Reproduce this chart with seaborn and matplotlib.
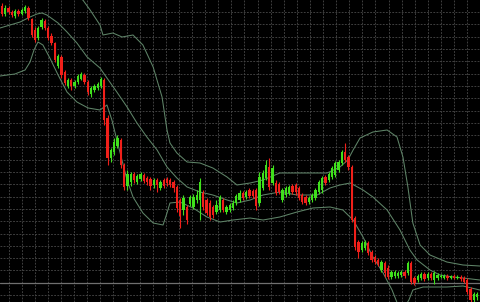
import numpy as np
import pandas as pd
import matplotlib
matplotlib.use("Agg")
import matplotlib.pyplot as plt
import seaborn as sns

# ---- candle data (price units, arbitrary scale) ----
opens = [294, 286, 292, 288, 284, 289, 286, 289, 292, 281, 270, 262, 273, 279, 272, 264,
         257, 234, 243, 228, 214, 220, 214, 218, 221, 225, 218, 206, 210, 212, 214, 220,
         182, 142, 148, 154, 160, 135, 114, 118, 126, 118, 121, 125, 122, 121, 115, 120,
         112, 120, 121, 120, 118, 113, 100, 90, 93, 96, 93, 100, 100, 107, 100, 97,
         93, 88, 90, 100, 88, 90, 92, 97, 100, 107, 103, 110, 109, 110, 97, 112,
         122, 133, 117, 117, 116, 100, 105, 107, 114, 115, 112, 105, 103, 98, 100, 102,
         108, 110, 123, 120, 123, 125, 130, 137, 148, 143, 133, 82, 58, 50, 52, 57,
         48, 43, 40, 30, 37, 32, 23, 24, 24, 25, 28, 27, 37, 22, 20, 22,
         26, 22, 26, 20, 22, 23, 22, 24, 22, 24, 22, 23, 22, 20, 11, 0, 3]
highs = [297, 295, 294, 290, 291, 291, 292, 295, 294, 282, 273, 274, 282, 281, 274, 267,
         258, 246, 245, 230, 222, 222, 220, 226, 228, 227, 220, 214, 216, 218, 223, 222,
         185, 152, 162, 165, 162, 137, 130, 128, 128, 126, 128, 127, 124, 123, 122, 122,
         120, 122, 123, 122, 120, 115, 102, 105, 95, 105, 106, 110, 122, 110, 102, 100,
         95, 100, 105, 102, 95, 97, 100, 106, 110, 109, 110, 112, 111, 112, 128, 130,
         140, 142, 135, 120, 118, 112, 114, 115, 116, 117, 114, 107, 105, 104, 107, 112,
         120, 124, 125, 128, 134, 139, 140, 150, 157, 145, 135, 84, 60, 59, 60, 59,
         50, 45, 42, 40, 39, 35, 30, 30, 29, 30, 30, 39, 39, 24, 26, 28,
         28, 28, 28, 29, 27, 26, 26, 26, 25, 26, 25, 25, 24, 22, 13, 8, 8]
lows = [284, 284, 286, 283, 282, 284, 285, 287, 280, 263, 258, 260, 271, 270, 260, 255,
        238, 232, 222, 215, 212, 210, 212, 216, 220, 216, 205, 203, 208, 210, 212, 175,
        135, 138, 145, 152, 132, 110, 110, 114, 117, 116, 119, 117, 115, 110, 112, 108,
        110, 112, 114, 113, 108, 88, 72, 85, 76, 94, 91, 97, 80, 90, 85, 80,
        82, 86, 88, 88, 86, 88, 90, 95, 98, 100, 101, 102, 102, 90, 94, 110,
        120, 110, 115, 105, 106, 98, 103, 105, 106, 105, 100, 96, 95, 96, 98, 100,
        106, 107, 115, 118, 121, 123, 128, 135, 138, 130, 78, 50, 42, 48, 50, 45,
        38, 36, 34, 28, 23, 21, 21, 22, 22, 23, 22, 25, 16, 15, 18, 20,
        19, 20, 20, 16, 20, 22, 21, 20, 21, 21, 21, 19, 17, 6, -5, -5, 0]
closes = [286, 292, 288, 285, 289, 286, 290, 293, 282, 265, 260, 272, 280, 272, 262, 257,
          240, 244, 225, 217, 220, 214, 218, 224, 226, 218, 208, 212, 214, 216, 221, 180,
          142, 150, 158, 162, 135, 113, 126, 126, 120, 124, 126, 119, 118, 114, 120, 115,
          118, 114, 117, 115, 112, 92, 84, 102, 80, 103, 103, 105, 118, 93, 87, 83,
          85, 95, 103, 90, 93, 95, 97, 104, 107, 102, 108, 104, 104, 94, 123, 127,
          135, 113, 132, 107, 108, 110, 112, 113, 108, 108, 102, 98, 97, 102, 105, 110,
          118, 122, 117, 126, 132, 137, 138, 148, 140, 133, 80, 53, 48, 57, 58, 47,
          40, 38, 36, 38, 27, 23, 28, 28, 27, 28, 24, 37, 18, 17, 24, 26,
          21, 26, 22, 27, 25, 24, 24, 22, 24, 22, 23, 21, 18, 8, 0, 6, 6]

# ---- Bollinger band lines (x in bar units) ----
mid_x = [-0.6, 5.5, 8.5, 10.6, 12.1, 13.6, 17, 19.7, 22.7, 25.8, 29.7, 31.8, 34.8, 37.9,
         40.9, 43.9, 47, 50, 53, 56.1, 60, 63.9, 68.2, 71.2, 75.2, 79.1, 84.2, 89.4, 95.5,
         99.4, 102.4, 105.5, 109.4, 112.4, 116.7, 120.6, 123.6, 125.8, 129.7, 132.7, 136.7,
         139.7, 144.8]
mid_y = [272, 278, 283, 286, 287, 285, 277, 268, 257, 243, 232, 222, 208, 193,
         177, 163, 150, 133, 122, 113, 108, 105, 100, 97, 100, 105, 108, 105, 105,
         112, 115, 117, 110, 103, 90, 70, 50, 40, 30, 25, 23,
         22, 20]
up_x = [23.0, 24.5, 26.7, 29.7, 30.6, 33.6, 36.4, 39.7, 42.7, 45.8, 48.5, 50, 50.9, 53,
        56.1, 60, 63.9, 68.2, 71.2, 75.2, 79.1, 84.2, 90.3, 98.5, 102.4, 104.8, 106.4,
        108.5, 112.4, 116.7, 119.7, 121.5, 123, 124.5, 126.7, 129.7, 134.8, 139.7, 144.8]
up_y = [303, 300, 290, 275, 265, 267, 263, 265, 255, 233, 203, 170, 157, 147,
        138, 137, 132, 123, 115, 117, 120, 127, 127, 127, 133, 140, 150,
        162, 168, 170, 163, 143, 113, 77, 55, 45, 38, 35, 34]
lo_x = [-0.6, 3.9, 7, 8.5, 9.7, 10.9, 12.4, 14.5, 17, 19.7, 22.7, 26.1, 29.7, 31.8, 33.3,
        35.8, 37.9, 39.7, 42.7, 45.8, 48.8, 50, 50.9, 53.9, 57.9, 62.1, 66.1, 70, 75.2,
        79.1, 84.2, 89.4, 94.2, 99.4, 103.3, 106.4, 109.4, 112.4, 115.5, 118.2, 120,
        121.8, 123.3, 124.5, 127.6, 134.8, 139.7, 144.8]
lo_y = [224, 226, 230, 238, 250, 258, 255, 242, 225, 208, 198, 192, 190, 195, 180,
        147, 120, 103, 87, 77, 75, 87, 97, 98, 92, 83, 78, 80, 82,
        80, 83, 88, 92, 93, 90, 80, 63, 43, 27, 10, -5,
        -8, 0, 10, 13, 13, 14, 10]
price_line = 17

UP = "#3fe01c"
DOWN = "#f0201a"
BAND = "#5f8468"

sns.set_style("dark", {"axes.facecolor": "black", "figure.facecolor": "black"})

fig = plt.figure(figsize=(4.8, 3.02), dpi=100)
ax = fig.add_axes([0, 0, 1, 1])
ax.set_facecolor("black")

# grid
ax.set_xticks(np.arange(2, 146, 3.97))
ax.set_yticks(np.arange(5, 300, 12.3))
ax.grid(True, color="#444444", linestyle=(0, (2, 1.5)), linewidth=0.65)
ax.tick_params(length=0, labelbottom=False, labelleft=False)
for s in ax.spines.values():
    s.set_visible(False)

# current price line
ax.axhline(price_line, color="#707070", lw=0.9, zorder=1.5)

# bands
bands = pd.concat([
    pd.DataFrame({"x": mid_x, "y": mid_y, "band": "mid"}),
    pd.DataFrame({"x": up_x, "y": up_y, "band": "up"}),
    pd.DataFrame({"x": lo_x, "y": lo_y, "band": "lo"}),
])
sns.lineplot(data=bands, x="x", y="y", units="band", estimator=None, sort=False,
             color=BAND, lw=0.75, ax=ax, zorder=2)

# candles
df = pd.DataFrame({"o": opens, "h": highs, "l": lows, "c": closes})
df["i"] = np.arange(len(df))
cols = np.where(df["c"] >= df["o"], UP, DOWN)
ax.vlines(df["i"], df["l"], df["h"], colors=cols, lw=0.8, zorder=3)
body_lo = np.minimum(df["o"], df["c"])
body_h = np.maximum(np.abs(df["c"] - df["o"]), 1.0)
ax.bar(df["i"], body_h, bottom=body_lo, width=0.72, color=cols, lw=0, zorder=4)

ax.set_xlim(-0.606, 144.85)
ax.set_ylim(-2, 300)
ax.set_xlabel("")
ax.set_ylabel("")

fig.savefig("out.png", dpi=100, facecolor="black")
